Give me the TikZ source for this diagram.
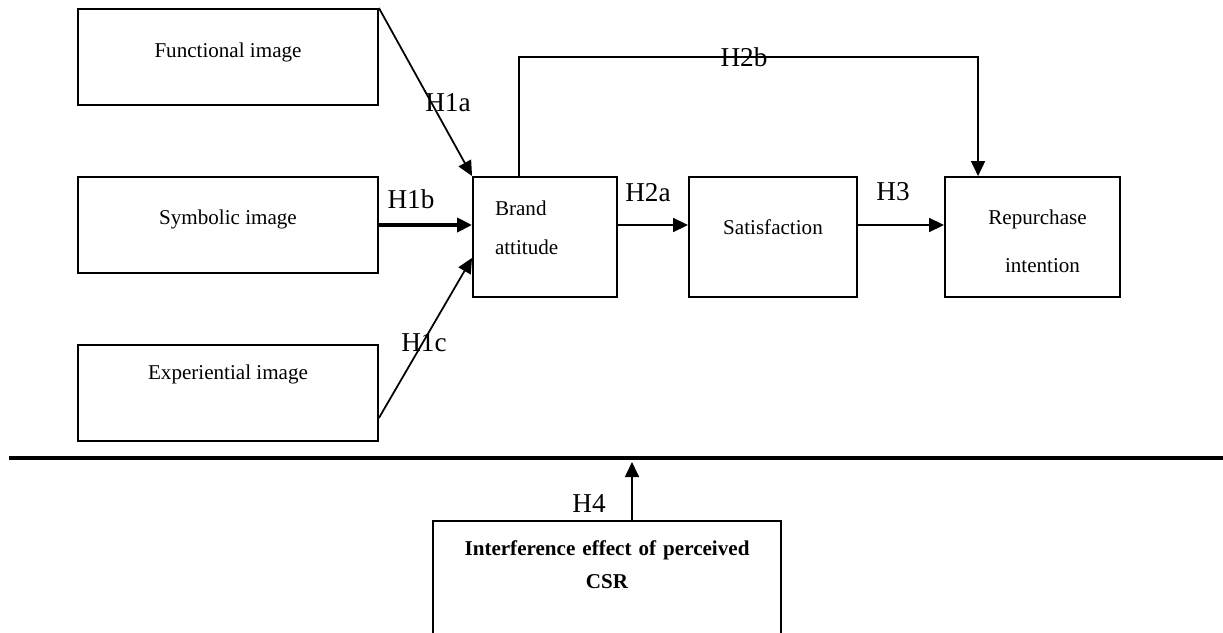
\documentclass[tikz,border=0pt]{standalone}
\usepackage{fontspec}
\setmainfont{Liberation Serif}
\usetikzlibrary{arrows.meta}
\begin{document}
\begin{tikzpicture}[x=0.02cm, y=-0.02cm,
  box/.style={draw, rectangle, line width=1.1pt, inner sep=0pt, text height=0.29cm,
    font=\fontsize{12pt}{14.4pt}\selectfont},
  imgbox/.style={box, minimum width=6cm, minimum height=1.92cm},
  midbox/.style={box, minimum height=2.4cm},
  hyp/.style={inner sep=0pt, font=\fontsize{15.5pt}{18pt}\selectfont},
  link/.style={line width=1pt, -{Triangle[length=0.3cm, width=0.28cm]}}]

\useasboundingbox (0,0) rectangle (1223,632);
\clip (0,0) rectangle (1223,632);

\node[imgbox, text depth=0.26cm] (func) at (228,57) {Functional image};
\node[imgbox, text depth=0.3cm] (symb) at (228,225) {Symbolic image};
\node[imgbox, text depth=0.82cm] (expr) at (228,393) {Experiential image};

\node[midbox, minimum width=2.88cm, text width=2cm, inner xsep=0.42cm, align=left,
  text depth=1.17cm] (brand) at (545,237) {Brand\\[0.29cm]attitude};
\node[midbox, minimum width=3.36cm, text depth=0.38cm] (satis) at (773,237) {Satisfaction};
\node[midbox, minimum width=3.5cm, text width=3cm, align=center, text height=0.45cm,
  text depth=0.96cm] (repur) at (1032.5,237) {\hspace*{0.2cm}Repurchase\\[0.45cm]\hspace*{0.4cm}intention};

\node[box, anchor=north, minimum width=6.96cm, text width=6.5cm, inner ysep=0.41cm, align=center,
  text depth=2cm, font=\fontsize{12pt}{14.4pt}\selectfont\bfseries] (csr) at (607,520)
  {Interference effect of perceived\\[0.15cm]CSR};

\coordinate (ruleL) at (9,458);
\coordinate (ruleR) at (1223,458);
\draw[line width=2.8pt] (ruleL) -- (ruleR);

\node[hyp] (h1a) at (448,103) {H1a};
\node[hyp] (h1b) at (411,199) {H1b};
\node[hyp] (h1c) at (424,343) {H1c};
\node[hyp] (h2a) at (648,193) {H2a};
\node[hyp] (h2b) at (744,57) {H2b};
\node[hyp] (h3) at (893,192) {H3};
\node[hyp] (h4) at (589,504) {H4};

\coordinate (c1) at ([yshift=0.48cm]expr.south east);
\coordinate (c2) at ([yshift=0.8cm]brand.south west);
\coordinate (h4tip) at (632,462);

\draw[link] (func.north east) -- (brand.north west);
\draw[link, line width=2.7pt] (symb.east) -- (symb.east -| brand.west);
\draw[link] (c1) -- (c2);
\draw[link] ([yshift=0.24cm]brand.east) -- ([yshift=0.24cm]satis.west);
\draw[link] ([yshift=0.24cm]satis.east) -- ([yshift=0.24cm]repur.west);
\draw[link] ([xshift=0.94cm]brand.north west) |- (h2b.center) -| ([xshift=0.68cm]repur.north west);
\draw[link] ([xshift=0.5cm]csr.north) -- (h4tip);
\end{tikzpicture}
\end{document}
